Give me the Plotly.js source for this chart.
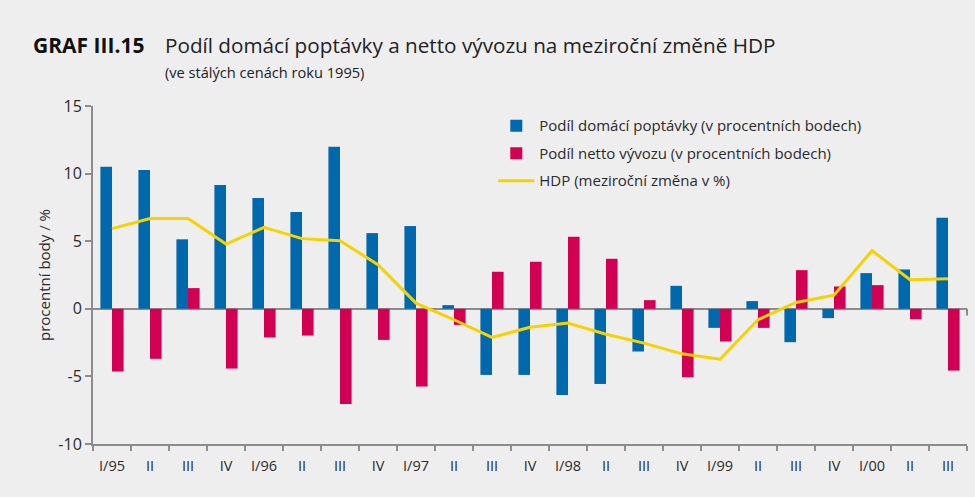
<!DOCTYPE html>
<html>
<head>
<meta charset="utf-8">
<script src="https://cdn.plot.ly/plotly-3.0.1.min.js"></script>
<style>
html,body{margin:0;padding:0;background:#eeeeee;}
#chart{width:975px;height:497px;}
</style>
</head>
<body>
<div id="chart"></div>
<script>
const quarterIds = ["1995Q1","1995Q2","1995Q3","1995Q4","1996Q1","1996Q2","1996Q3","1996Q4","1997Q1","1997Q2","1997Q3","1997Q4","1998Q1","1998Q2","1998Q3","1998Q4","1999Q1","1999Q2","1999Q3","1999Q4","2000Q1","2000Q2","2000Q3"];
const tickLabels = ["I/95","II","III","IV","I/96","II","III","IV","I/97","II","III","IV","I/98","II","III","IV","I/99","II","III","IV","I/00","II","III"];
const domesticDemand = [10.5, 10.27, 5.14, 9.16, 8.2, 7.16, 11.98, 5.6, 6.12, 0.27, -4.89, -4.89, -6.37, -5.56, -3.16, 1.7, -1.41, 0.57, -2.47, -0.69, 2.64, 2.91, 6.74];
const netExports = [-4.64, -3.7, 1.53, -4.42, -2.12, -1.98, -7.04, -2.3, -5.75, -1.19, 2.74, 3.48, 5.33, 3.7, 0.64, -5.06, -2.42, -1.41, 2.86, 1.65, 1.75, -0.77, -4.57];
const gdp = [5.93, 6.67, 6.67, 4.79, 6.02, 5.19, 5.04, 3.26, 0.42, -0.81, -2.12, -1.36, -1.06, -1.88, -2.54, -3.33, -3.73, -0.81, 0.47, 1.01, 4.3, 2.15, 2.22];
const yTickVals = [-10, -5, 0, 5, 10, 15];
const yTickText = ["-10", "-5", "0", "5", "10", "15"];
const seriesNames = ["Podíl domácí poptávky (v procentních bodech)", "Podíl netto vývozu (v procentních bodech)", "HDP (meziroční změna v %)"];

const FONT = "'Open Sans', 'Liberation Sans', sans-serif";
const AXIS = "#8c8c8c";
const TXT = "#2b2b2b";

const traces = [
  {type:"bar", x:quarterIds, y:domesticDemand, name:seriesNames[0], legendgroup:"a", marker:{color:"#0068ad"}},
  {type:"bar", x:quarterIds, y:netExports, name:seriesNames[1], legendgroup:"b", marker:{color:"#d20052"}},
  {type:"scatter", mode:"lines", x:quarterIds, y:gdp, name:seriesNames[2], legendgroup:"c", line:{color:"#f5d200", width:3}}
];

const layout = {
  width:975, height:497,
  paper_bgcolor:"#eeeeee", plot_bgcolor:"#eeeeee",
  margin:{l:93, r:8, t:106, b:53},
  barmode:"group", bargap:0.39, bargroupgap:0,
  font:{family:FONT, color:TXT, size:15},
  showlegend:true,
  legend:{x:0.458, y:0.99, xanchor:"left", yanchor:"top", bgcolor:"rgba(0,0,0,0)", font:{size:15, color:TXT},
          itemwidth:36, traceorder:"grouped", tracegroupgap:5},
  xaxis:{type:"category", tickmode:"array", tickvals:quarterIds, ticktext:tickLabels,
         tickson:"boundaries", ticks:"outside", ticklen:5, tickcolor:AXIS, tickwidth:2, tickangle:0,
         ticklabelstandoff:8,
         showline:true, linecolor:AXIS, linewidth:2, showgrid:false, zeroline:false,
         tickfont:{size:14.5, color:TXT}, range:[-0.5, 22.5]},
  yaxis:{range:[-10,15], tickvals:yTickVals, ticktext:yTickText, ticks:"outside", ticklen:6, tickcolor:AXIS, tickwidth:2,
         showline:true, linecolor:AXIS, linewidth:2, showgrid:false,
         zeroline:true, zerolinecolor:AXIS, zerolinewidth:2,
         tickfont:{size:16, color:TXT},
         title:{text:"procentní body / %", font:{size:15, color:TXT}, standoff:4}},
  shapes:[
    {type:"line", xref:"paper", yref:"y", x0:1, x1:1, y0:0, y1:-0.5, line:{color:AXIS, width:2}}
  ],
  annotations:[
    {xref:"paper", yref:"paper", x:-93/874, y:1+(106-45)/338, xanchor:"left", yanchor:"middle", showarrow:false,
     text:"<b>GRAF III.15</b>", font:{size:21, color:"#111"}, xshift:31},
    {xref:"paper", yref:"paper", x:-93/874, y:1+(106-45)/338, xanchor:"left", yanchor:"middle", showarrow:false,
     text:"Podíl domácí poptávky a netto vývozu na meziroční změně HDP", font:{size:20.7, color:"#222"}, xshift:163},
    {xref:"paper", yref:"paper", x:-93/874, y:1+(106-72)/338, xanchor:"left", yanchor:"middle", showarrow:false,
     text:"(ve stálých cenách roku 1995)", font:{size:14.6, color:"#222"}, xshift:163}
  ]
};

Plotly.newPlot("chart", traces, layout, {staticPlot:true, displayModeBar:false});
</script>
</body>
</html>
